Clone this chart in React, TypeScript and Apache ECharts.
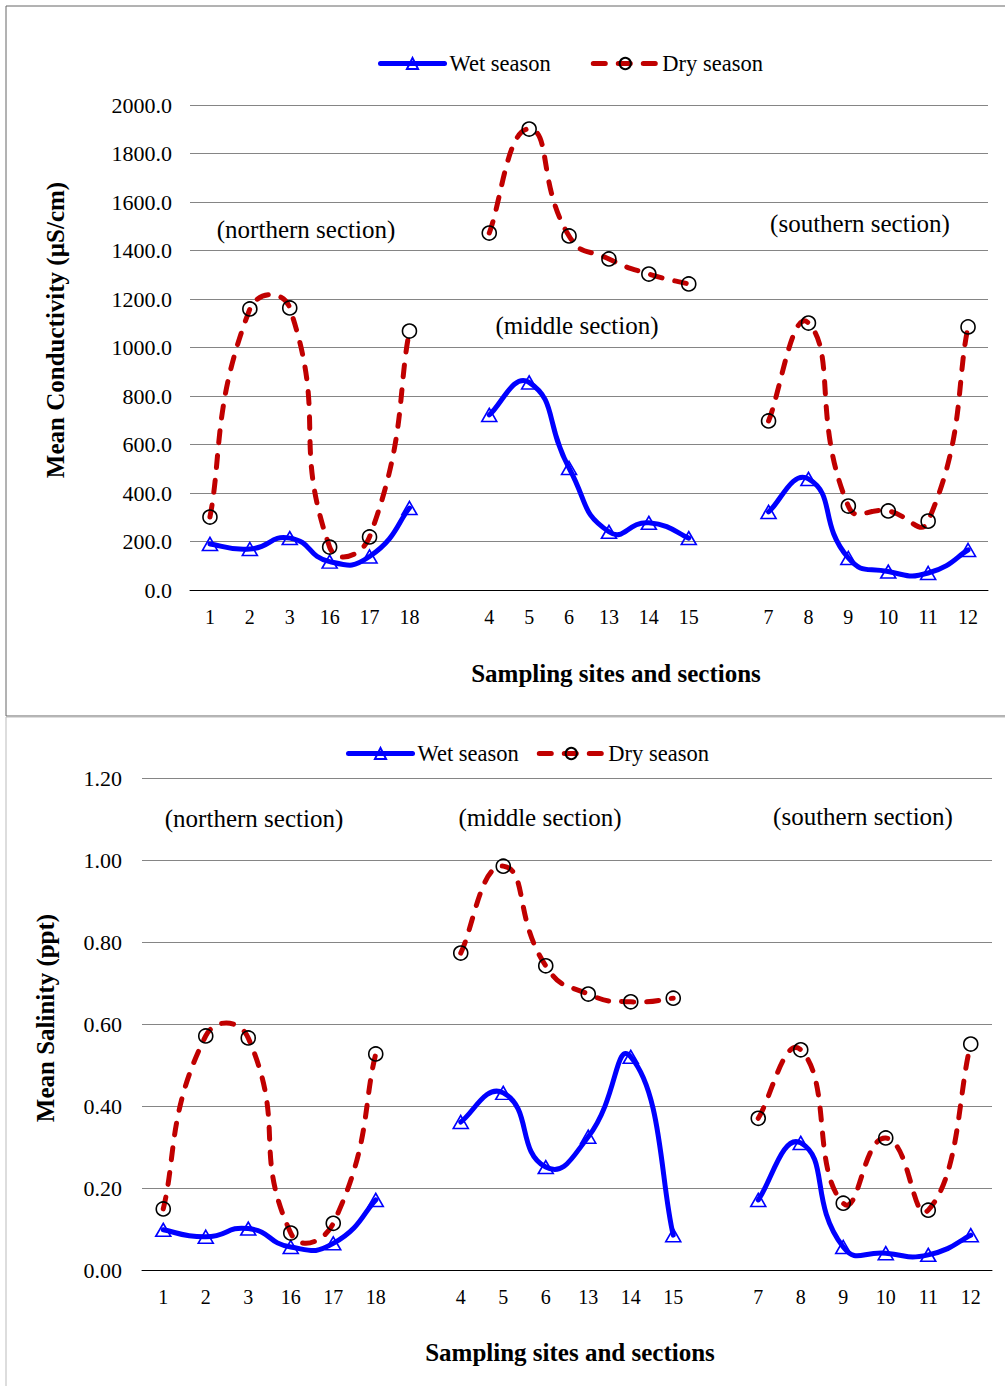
import React, { useEffect, useRef } from "react";
import * as echarts from "echarts";

const categories = ["1", "2", "3", "16", "17", "18", " ", "4", "5", "6", "13", "14", "15", "  ", "7", "8", "9", "10", "11", "12"];
const condWet = [190, 169, 214, 117, 138, 338, null, 722, 856, 503, 240, 277, 214, null, 322, 458, 132, 76, 70, 165];
const condDry = [301, 1159, 1163, 177, 219, 1068, null, 1472, 1901, 1460, 1365, 1303, 1262, null, 697, 1101, 346, 326, 284, 1085];
const salWet = [0.098, 0.081, 0.101, 0.056, 0.065, 0.171, null, 0.361, 0.432, 0.251, 0.325, 0.52, 0.085, null, 0.171, 0.31, 0.056, 0.041, 0.037, 0.085];
const salDry = [0.149, 0.571, 0.566, 0.09, 0.114, 0.527, null, 0.773, 0.985, 0.742, 0.673, 0.654, 0.663, null, 0.37, 0.537, 0.163, 0.322, 0.146, 0.551];
const seriesNames = ["Wet season", "Dry season"];
const sectionLabels = ["(northern section)", "(middle section)", "(southern section)"];

const FONT = "'Liberation Serif', 'Times New Roman', serif";
const WET = "#0000FF";
const DRY = "#C00000";
const DASH = [12, 13];

// Excel-like smoothed path through pixel points (segments separated by nulls)
function smoothPath(values: (number | null)[], coord: (p: number[]) => number[]): string {
  const segs: number[][][] = [];
  let cur: number[][] = [];
  values.forEach((v, i) => {
    if (v === null || v === undefined) {
      if (cur.length) segs.push(cur);
      cur = [];
    } else cur.push(coord([i, v]));
  });
  if (cur.length) segs.push(cur);
  const s = 0.55;
  const dist = (a: number[], b: number[]) => Math.hypot(a[0] - b[0], a[1] - b[1]);
  let d = "";
  for (const P of segs) {
    const n = P.length;
    d += `M${P[0][0]},${P[0][1]}`;
    for (let i = 0; i < n - 1; i++) {
      const p1 = P[i], p2 = P[i + 1];
      const d12 = dist(p1, p2);
      let c1: number[], c2: number[];
      if (i === 0) {
        c1 = [p1[0] + (p2[0] - p1[0]) * 0.3, p1[1] + (p2[1] - p1[1]) * 0.3];
      } else {
        const p0 = P[i - 1];
        const r = (s * d12) / (dist(p0, p1) + d12);
        c1 = [p1[0] + (p2[0] - p0[0]) * r, p1[1] + (p2[1] - p0[1]) * r];
      }
      if (i + 2 >= n) {
        c2 = [p2[0] - (p2[0] - p1[0]) * 0.3, p2[1] - (p2[1] - p1[1]) * 0.3];
      } else {
        const p3 = P[i + 2];
        const r = (s * d12) / (d12 + dist(p2, p3));
        c2 = [p2[0] - (p3[0] - p1[0]) * r, p2[1] - (p3[1] - p1[1]) * r];
      }
      d += `C${c1[0]},${c1[1]},${c2[0]},${c2[1]},${p2[0]},${p2[1]}`;
    }
  }
  return d;
}

export default function App() {
  const ref = useRef<HTMLDivElement>(null);
  useEffect(() => {
    if (!ref.current) return;
    const chart = echarts.init(ref.current, null, { renderer: "svg" });

    const curve = (xi: number, values: (number | null)[], color: string, dash: any, id: string) => ({
      name: id,
      type: "custom",
      coordinateSystem: "cartesian2d",
      xAxisIndex: xi,
      yAxisIndex: xi,
      data: [[0, 0]],
      silent: true,
      z: 2,
      renderItem: (_params: any, api: any) => ({
        type: "path",
        shape: { pathData: smoothPath(values, (p) => api.coord(p)) },
        style: { fill: "none", stroke: color, lineWidth: 5, lineDash: dash, lineCap: "round", lineJoin: "round" },
      }),
    });
    const markers = (xi: number, data: any[], wet: boolean) => ({
      name: wet ? seriesNames[0] : seriesNames[1],
      type: "line",
      xAxisIndex: xi,
      yAxisIndex: xi,
      data,
      connectNulls: false,
      symbol: wet ? "triangle" : "circle",
      symbolSize: wet ? [15, 13] : 14,
      lineStyle: { color: wet ? WET : DRY, width: 5, opacity: 0 },
      itemStyle: { color: "rgba(255,255,255,0)", borderColor: wet ? WET : "#000000", borderWidth: 1.6 },
      z: 3,
    });
    const xAxis = (gi: number) => ({
      type: "category",
      gridIndex: gi,
      data: categories,
      boundaryGap: true,
      axisLine: { show: true, lineStyle: { color: "#000", width: 1 } },
      axisTick: { show: false },
      axisLabel: { fontFamily: FONT, fontSize: 20, color: "#000", margin: 17, interval: 0 },
      splitLine: { show: false },
    });
    const yAxis = (gi: number, max: number, interval: number, dec: number, margin: number) => ({
      type: "value",
      gridIndex: gi,
      min: 0,
      max,
      interval,
      axisLine: { show: false },
      axisTick: { show: false },
      axisLabel: {
        fontFamily: FONT,
        fontSize: 22,
        color: "#000",
        margin,
        formatter: (v: number) => v.toFixed(dec),
      },
      splitLine: { show: true, lineStyle: { color: "#858585", width: 1 } },
    });
    const txt = (text: string, x: number, y: number, size: number, bold = false, rotation = 0) => ({
      type: "text",
      x,
      y,
      rotation,
      z: 10,
      style: {
        text,
        fill: "#000",
        font: `${bold ? "bold " : ""}${size}px ${FONT}`,
        align: "center",
        verticalAlign: "middle",
      },
    });
    const legendBase = {
      data: [
        { name: seriesNames[0], lineStyle: { color: WET, width: 5, opacity: 1, type: "solid", cap: "round" } },
        { name: seriesNames[1], lineStyle: { color: DRY, width: 5, opacity: 1, type: DASH, cap: "round" } },
      ],
      orient: "horizontal",
      itemWidth: 64,
      itemHeight: 14,
      textStyle: { fontFamily: FONT, fontSize: 22.5, color: "#000" },
      selectedMode: false,
    };
    chart.setOption({
      animation: false,
      backgroundColor: "#fff",
      legend: [
        { ...legendBase, left: 373, top: 47, itemGap: 40 },
        { ...legendBase, left: 341, top: 737, itemGap: 18 },
      ],
      grid: [
        { left: 190, top: 105, width: 798, height: 485 },
        { left: 142, top: 778, width: 850, height: 492 },
      ],
      xAxis: [xAxis(0), xAxis(1)],
      yAxis: [yAxis(0, 2000, 200, 1, 18), yAxis(1, 1.2, 0.2, 2, 20)],
      series: [
        curve(0, condWet, WET, null, "c-wet-top"),
        curve(0, condDry, DRY, DASH, "c-dry-top"),
        curve(1, salWet, WET, null, "c-wet-bot"),
        curve(1, salDry, DRY, DASH, "c-dry-bot"),
        markers(0, condWet, true),
        markers(0, condDry, false),
        markers(1, salWet, true),
        markers(1, salDry, false),
      ],
      graphic: [
        { type: "rect", shape: { x: 6, y: 6, width: 1010, height: 710 }, style: { fill: "none", stroke: "#666", lineWidth: 1 }, silent: true },
        { type: "rect", shape: { x: 6, y: 717, width: 1010, height: 690 }, style: { fill: "none", stroke: "#bbb", lineWidth: 1 }, silent: true },
        txt(sectionLabels[0], 306, 229, 25),
        txt(sectionLabels[1], 577, 325, 25),
        txt(sectionLabels[2], 860, 223, 25),
        txt(sectionLabels[0], 254, 818, 25),
        txt(sectionLabels[1], 540, 817, 25),
        txt(sectionLabels[2], 863, 816, 25),
        txt("Sampling sites and sections", 616, 673, 25, true),
        txt("Sampling sites and sections", 570, 1352, 25, true),
        txt("Mean Conductivity (µS/cm)", 55, 330, 25, true, Math.PI / 2),
        txt("Mean Salinity (ppt)", 45, 1018, 25, true, Math.PI / 2),
      ],
    });
    return () => chart.dispose();
  }, []);
  return (
    <div
      ref={ref}
      style={{ position: "absolute", left: 0, top: 0, width: 1005, height: 1386, background: "#fff" }}
    />
  );
}
